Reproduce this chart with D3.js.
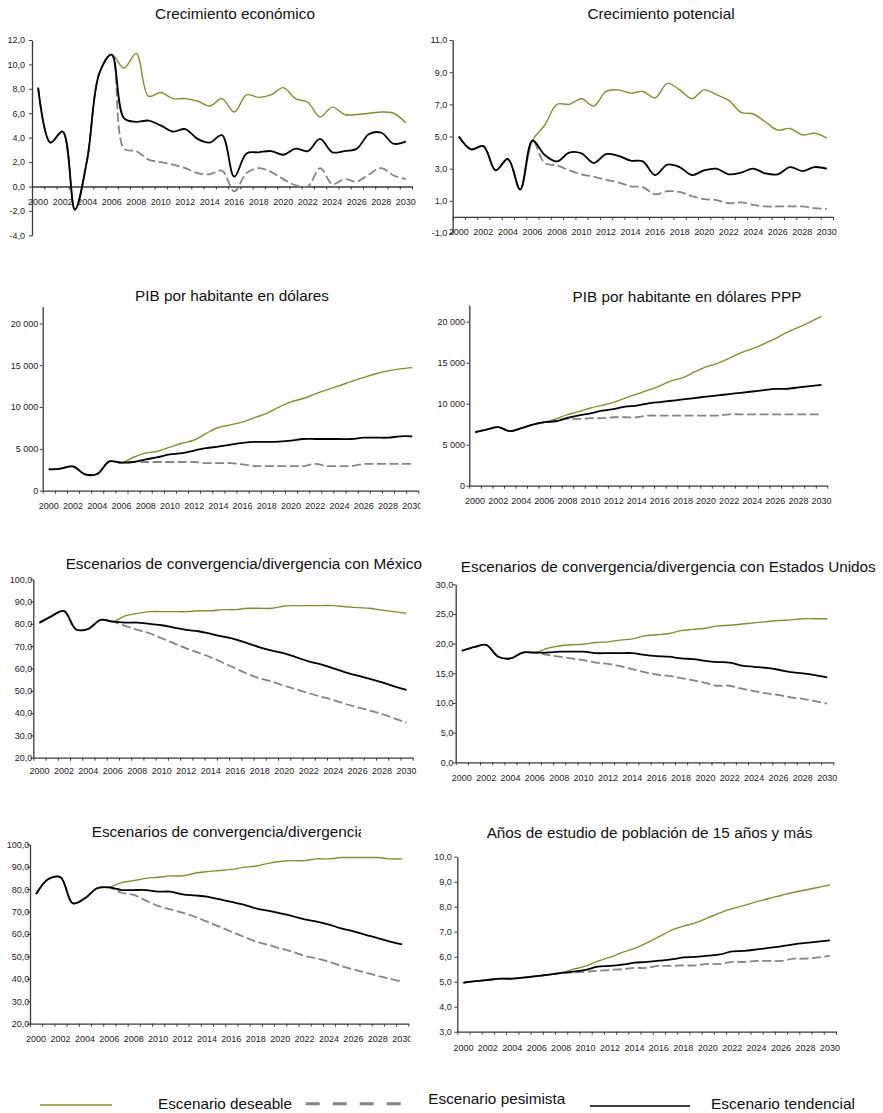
<!DOCTYPE html>
<html><head><meta charset="utf-8">
<script src="https://cdn.jsdelivr.net/npm/d3@7"></script>
<style>body{margin:0;background:#fff;} svg{display:block;font-family:"Liberation Sans",Arial,sans-serif;}</style>
</head><body><svg id="c" width="883" height="1113"></svg>
<script>
const years = [2000,2001,2002,2003,2004,2005,2006,2007,2008,2009,2010,2011,2012,2013,2014,2015,2016,2017,2018,2019,2020,2021,2022,2023,2024,2025,2026,2027,2028,2029,2030];
const xTickLabels = [2000,2002,2004,2006,2008,2010,2012,2014,2016,2018,2020,2022,2024,2026,2028,2030];
const seriesNames = ["Escenario deseable","Escenario pesimista","Escenario tendencial"];

// 1. Crecimiento económico
const crecEcoDeseable   = [8.1,3.6,4.5,-1.9,2.2,9.3,10.8, 9.7,10.9,7.4,7.7,7.2,7.2,7.0,6.6,7.2,6.1,7.5,7.3,7.5,8.1,7.2,6.9,5.7,6.5,5.9,5.9,6.0,6.1,6.0,5.2];
const crecEcoPesimista  = [8.1,3.6,4.5,-1.9,2.2,9.3,10.8, 3.1,2.9,2.2,2.0,1.8,1.5,1.1,1.0,1.3,-0.4,1.1,1.5,1.2,0.6,0.1,0.0,1.5,0.2,0.6,0.4,1.0,1.5,0.9,0.6];
const crecEcoTendencial = [8.1,3.6,4.5,-1.9,2.2,9.3,10.8, 5.6,5.3,5.4,5.0,4.5,4.7,3.9,3.6,4.2,0.8,2.7,2.8,2.9,2.6,3.1,2.9,3.9,2.8,2.9,3.1,4.3,4.4,3.5,3.7];
const crecEcoTicks = [-4,-2,0,2,4,6,8,10,12];

// 2. Crecimiento potencial
const crecPotDeseable   = [5.0,4.2,4.4,2.9,3.6,1.7,4.75, 5.7,7.0,7.0,7.35,6.9,7.8,7.9,7.7,7.8,7.4,8.3,7.9,7.35,7.9,7.6,7.25,6.5,6.4,5.9,5.4,5.5,5.1,5.2,4.9];
const crecPotPesimista  = [5.0,4.2,4.4,2.9,3.6,1.7,4.75, 3.35,3.2,2.9,2.65,2.5,2.3,2.15,1.9,1.85,1.4,1.6,1.55,1.3,1.1,1.05,0.85,0.9,0.75,0.65,0.65,0.65,0.65,0.55,0.5];
const crecPotTendencial = [5.0,4.2,4.4,2.9,3.6,1.7,4.75, 3.85,3.45,4.0,3.95,3.35,3.9,3.8,3.5,3.45,2.6,3.25,3.1,2.6,2.9,3.0,2.65,2.75,3.0,2.7,2.65,3.1,2.85,3.1,3.0];
const crecPotTicks = [-1,1,3,5,7,9,11];

// 3. PIB por habitante en dólares
const pibDeseable   = [2550,2650,2900,1950,2000,3500,3350, 4000,4490,4720,5200,5670,6060,6850,7560,7870,8230,8740,9250,10000,10630,11020,11570,12090,12560,13070,13540,13980,14330,14570,14720];
const pibPesimista  = [2550,2650,2900,1950,2000,3500,3350, 3430,3430,3430,3430,3430,3430,3300,3300,3300,3150,2950,2950,2950,2950,2950,3200,2950,2950,2950,3200,3200,3200,3200,3200];
const pibTendencial = [2550,2650,2900,1950,2000,3500,3350, 3430,3740,4020,4330,4490,4800,5080,5280,5510,5710,5830,5830,5870,5980,6180,6180,6180,6180,6180,6340,6340,6340,6500,6500];
const pibTicks = [0,5000,10000,15000,20000];

// 4. PIB por habitante en dólares PPP
const pppDeseable   = [6530,6850,7140,6650,7020,7460,7740, 8150,8670,9030,9480,9800,10160,10690,11170,11650,12180,12780,13190,13870,14480,14920,15520,16210,16690,17300,17940,18710,19310,19960,20650];
const pppPesimista  = [6530,6850,7140,6650,7020,7460,7740, 7940,8150,8150,8230,8230,8350,8350,8350,8550,8550,8550,8550,8550,8550,8550,8710,8710,8710,8710,8710,8710,8710,8710,8710];
const pppTendencial = [6530,6850,7140,6650,7020,7460,7740, 7860,8270,8590,8830,9150,9350,9640,9760,10040,10200,10360,10520,10690,10850,11010,11170,11330,11490,11650,11810,11810,11980,12140,12300];
const pppTicks = [0,5000,10000,15000,20000];

// 5. Convergencia con México
const mexDeseable   = [80.5,83.5,85.8,77.5,77.8,81.8,81.0, 83.6,84.7,85.5,85.5,85.5,85.5,85.9,85.9,86.4,86.4,87.0,87.0,87.0,88.0,88.2,88.2,88.2,88.2,87.7,87.3,87.0,86.2,85.5,84.7];
const mexPesimista  = [80.5,83.5,85.8,77.5,77.8,81.8,81.0, 79.1,77.3,75.8,73.5,71.3,69.0,67.1,65.0,62.6,60.1,57.6,55.6,54.1,52.3,50.6,48.9,47.4,45.9,44.1,42.6,41.1,39.6,37.6,35.7];
const mexTendencial = [80.5,83.5,85.8,77.5,77.8,81.8,81.0, 80.6,80.6,80.0,79.4,78.3,77.3,76.7,75.5,74.3,73.1,71.3,69.5,68.0,66.8,65.0,63.2,61.9,60.1,58.3,56.8,55.4,53.8,52.0,50.4];
const mexTicks = [20,30,40,50,60,70,80,90,100];

// 6. Convergencia con Estados Unidos
const eeuuDeseable   = [18.8,19.4,19.8,17.8,17.5,18.5,18.5, 19.2,19.6,19.8,19.9,20.2,20.3,20.6,20.8,21.3,21.5,21.7,22.2,22.4,22.6,23.0,23.1,23.3,23.5,23.7,23.9,24.0,24.2,24.2,24.2];
const eeuuPesimista  = [18.8,19.4,19.8,17.8,17.5,18.5,18.5, 18.1,17.8,17.5,17.2,16.8,16.6,16.2,15.7,15.2,14.8,14.55,14.2,13.8,13.4,12.9,12.9,12.4,12.0,11.6,11.35,10.95,10.7,10.3,9.9];
const eeuuTendencial = [18.8,19.4,19.8,17.8,17.5,18.5,18.5, 18.5,18.65,18.65,18.65,18.4,18.4,18.4,18.4,18.1,17.9,17.8,17.5,17.4,17.1,16.9,16.8,16.3,16.1,15.9,15.6,15.2,15.0,14.7,14.3];
const eeuuTicks = [0,5,10,15,20,25,30];

// 7. Convergencia/divergencia (título recortado)
const conv3Deseable   = [77.8,84.5,85.3,73.7,75.9,80.4,80.8, 82.9,83.8,84.8,85.3,85.9,85.9,87.1,87.8,88.3,88.8,89.7,90.3,91.5,92.3,92.7,92.7,93.5,93.5,94.1,94.1,94.1,94.1,93.5,93.5];
const conv3Pesimista  = [77.8,84.5,85.3,73.7,75.9,80.4,80.8, 78.4,77.4,74.9,72.5,71.0,69.5,67.7,65.5,63.3,61.0,58.8,56.6,55.2,53.6,52.1,50.2,49.1,47.7,45.7,44.2,42.8,41.3,40.1,38.7];
const conv3Tendencial = [77.8,84.5,85.3,73.7,75.9,80.4,80.8, 79.6,79.6,79.6,78.9,78.9,77.7,77.2,76.7,75.5,74.3,73.1,71.4,70.4,69.2,68.0,66.5,65.5,64.2,62.5,61.2,59.6,58.2,56.6,55.4];
const conv3Ticks = [20,30,40,50,60,70,80,90,100];

// 8. Años de estudio de población de 15 años y más
const estDeseable   = [4.96,5.02,5.07,5.12,5.12,5.17,5.22,5.28,5.35, 5.5,5.62,5.82,5.98,6.17,6.33,6.55,6.8,7.05,7.22,7.35,7.55,7.75,7.92,8.05,8.2,8.33,8.45,8.57,8.67,8.77,8.87];
const estPesimista  = [4.96,5.02,5.07,5.12,5.12,5.17,5.22,5.28,5.35, 5.37,5.4,5.44,5.47,5.5,5.55,5.55,5.63,5.63,5.65,5.65,5.71,5.71,5.79,5.79,5.83,5.83,5.83,5.92,5.92,5.97,6.03];
const estTendencial = [4.96,5.02,5.07,5.12,5.12,5.17,5.22,5.28,5.35, 5.4,5.47,5.6,5.63,5.68,5.76,5.79,5.84,5.89,5.97,5.99,6.04,6.09,6.21,6.23,6.29,6.35,6.41,6.49,6.55,6.6,6.65];
const estTicks = [3,4,5,6,7,8,9,10];

const titles = ["Crecimiento económico","Crecimiento potencial","PIB por habitante en dólares","PIB por habitante en dólares PPP",
  "Escenarios de convergencia/divergencia con México","Escenarios de convergencia/divergencia con Estados Unidos",
  "Escenarios de convergencia/divergencia","Años de estudio de población de 15 años y más"];

const loc = d3.formatLocale({decimal:",", thousands:" ", grouping:[3], currency:["",""], minus:"-"});
const fmtDec = loc.format(".1f");
const fmtThou = loc.format(",.0f");

const panels = [
  {t:titles[0], d:crecEcoDeseable, p:crecEcoPesimista, te:crecEcoTendencial, ticks:crecEcoTicks, dom:[-4,12], rng:[235.3,40], x0:32, x1:412, axisAt:0, fmt:fmtDec, tx:235, ty:18.5, gap:7, lab:15.3, clip:440},
  {t:titles[1], d:crecPotDeseable, p:crecPotPesimista, te:crecPotTendencial, ticks:crecPotTicks, dom:[-1,11], rng:[233,40], x0:452.7, x1:833, axisAt:0, fmt:fmtDec, tx:661, ty:18.5, gap:5.4, lab:15, clip:883},
  {t:titles[2], d:pibDeseable, p:pibPesimista, te:pibTendencial, ticks:pibTicks, dom:[0,22000], rng:[490.7,306.7], x0:42.7, x1:418.3, axisAt:0, fmt:fmtThou, tx:232, ty:300.7, gap:4.4, lab:15.3, clip:420.5},
  {t:titles[3], d:pppDeseable, p:pppPesimista, te:pppTendencial, ticks:pppTicks, dom:[0,22000], rng:[485.7,305.3], x0:469.3, x1:827.3, axisAt:0, fmt:fmtThou, tx:687, ty:301.7, gap:4.3, lab:15, clip:883},
  {t:titles[4], d:mexDeseable, p:mexPesimista, te:mexTendencial, ticks:mexTicks, dom:[20,100], rng:[757.7,579.3], x0:33.3, x1:412.7, axisAt:20, fmt:fmtDec, tx:243.8, ty:569.3, gap:1, lab:13, clip:416.5},
  {t:titles[5], d:eeuuDeseable, p:eeuuPesimista, te:eeuuTendencial, ticks:eeuuTicks, dom:[0,30], rng:[762.3,584.3], x0:455.7, x1:833.3, axisAt:0, fmt:fmtDec, tx:668.3, ty:571.7, gap:2.4, lab:16, clip:883},
  {t:titles[6], d:conv3Deseable, p:conv3Pesimista, te:conv3Tendencial, ticks:conv3Ticks, dom:[20,100], rng:[1023.7,844.3], x0:30, x1:408.3, axisAt:20, fmt:fmtDec, tx:91.7, ty:837.3, anchor:"start", tclip:361, gap:0.7, lab:15, clip:410.5},
  {t:titles[7], d:estDeseable, p:estPesimista, te:estTendencial, ticks:estTicks, dom:[3,10], rng:[1031.7,856.7], x0:457.3, x1:836, axisAt:3, fmt:fmtDec, tx:649.5, ty:837.7, gap:5.6, lab:16, clip:883}
];

const svg = d3.select("#c");
const defs = svg.append("defs");
const colDes = "#878c2f", colPes = "#858585", colTen = "#000000";
const axisCol = "#3a3a3a", txtCol = "#222";

panels.forEach((P, i) => {
  const cid = "clip" + i;
  const top = P.rng[1] - 40;
  defs.append("clipPath").attr("id", cid).append("rect")
    .attr("x", P.x0 - 45).attr("y", top).attr("width", P.clip - (P.x0 - 45)).attr("height", P.rng[0] - top + 40);
  const g = svg.append("g").attr("clip-path", `url(#${cid})`);

  const x = d3.scaleBand().domain(years).range([P.x0, P.x1]).padding(0);
  const xb = d3.scaleLinear().domain([0, years.length]).range([P.x0, P.x1]);
  const y = d3.scaleLinear().domain(P.dom).range(P.rng);
  const yAxisY = y(P.axisAt);

  // Title
  if (P.tclip) {
    defs.append("clipPath").attr("id", "tclip" + i).append("rect")
      .attr("x", 0).attr("y", P.ty - 20).attr("width", P.tclip).attr("height", 30);
  }
  svg.append("text").attr("x", P.tx).attr("y", P.ty)
    .attr("text-anchor", P.anchor || "middle")
    .attr("font-size", "15.3px").attr("fill", "#111")
    .attr("clip-path", P.tclip ? `url(#tclip${i})` : null)
    .text(P.t);

  // Y axis
  const ya = g.append("g").attr("transform", `translate(${P.x0},0)`)
    .call(d3.axisLeft(y).tickValues(P.ticks).tickFormat(P.fmt).tickSize(3).tickSizeOuter(0).tickPadding(P.gap - 3));
  ya.select(".domain").attr("stroke", axisCol).attr("stroke-width", 1.3);
  ya.selectAll(".tick line").attr("stroke", axisCol);
  ya.selectAll(".tick text").attr("font-size", "9px").attr("fill", txtCol).attr("font-family", "Liberation Sans, Arial, sans-serif");

  // X axis line + boundary ticks
  const xa = g.append("g").attr("transform", `translate(0,${yAxisY})`)
    .call(d3.axisBottom(xb).tickValues(d3.range(0, years.length + 1)).tickSize(3).tickSizeOuter(0).tickFormat(""));
  xa.select(".domain").attr("stroke", axisCol).attr("stroke-width", 1.3);
  xa.selectAll(".tick line").attr("stroke", axisCol);

  // X labels
  const xl = g.append("g").attr("transform", `translate(0,${yAxisY})`)
    .call(d3.axisBottom(x).tickValues(xTickLabels).tickSize(0).tickPadding(P.lab - 3.2));
  xl.select(".domain").remove();
  xl.selectAll(".tick text").attr("font-size", "9px").attr("fill", txtCol).attr("font-family", "Liberation Sans, Arial, sans-serif");

  const line = d3.line()
    .x((d, j) => x(years[j]) + x.bandwidth() / 2)
    .y(d => y(d))
    .curve(d3.curveCatmullRom.alpha(0.5));

  g.append("path").datum(P.d).attr("d", line).attr("fill", "none")
    .attr("stroke", colDes).attr("stroke-width", 1.4);
  g.append("path").datum(P.p).attr("d", line).attr("fill", "none")
    .attr("stroke", colPes).attr("stroke-width", 1.8).attr("stroke-dasharray", "9,3.5");
  g.append("path").datum(P.te).attr("d", line).attr("fill", "none")
    .attr("stroke", colTen).attr("stroke-width", 1.8);
});

// Legend
const lg = svg.append("g");
lg.append("line").attr("x1", 40).attr("x2", 112).attr("y1", 1105).attr("y2", 1105)
  .attr("stroke", colDes).attr("stroke-width", 1.3);
lg.append("text").attr("x", 158).attr("y", 1108.7).attr("font-size", "15px").attr("fill", "#111")
  .attr("textLength", 134).attr("lengthAdjust", "spacingAndGlyphs").text(seriesNames[0]);
lg.append("line").attr("x1", 305.7).attr("x2", 401).attr("y1", 1103.7).attr("y2", 1103.7)
  .attr("stroke", colPes).attr("stroke-width", 3).attr("stroke-dasharray", "14,13");
lg.append("text").attr("x", 428.3).attr("y", 1104).attr("font-size", "15px").attr("fill", "#111")
  .attr("textLength", 137).attr("lengthAdjust", "spacingAndGlyphs").text(seriesNames[1]);
lg.append("line").attr("x1", 590).attr("x2", 690).attr("y1", 1106).attr("y2", 1106)
  .attr("stroke", colTen).attr("stroke-width", 1.3);
lg.append("text").attr("x", 711).attr("y", 1109).attr("font-size", "15px").attr("fill", "#111")
  .attr("textLength", 144).attr("lengthAdjust", "spacingAndGlyphs").text(seriesNames[2]);
</script></body></html>
